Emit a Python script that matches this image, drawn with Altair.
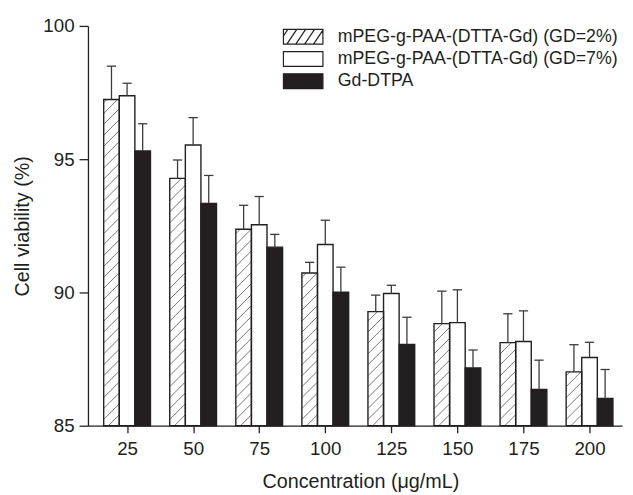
import altair as alt
import pandas as pd

concentrations = [25, 50, 75, 100, 125, 150, 175, 200]
series_names = [
    "mPEG-g-PAA-(DTTA-Gd) (GD=2%)",
    "mPEG-g-PAA-(DTTA-Gd) (GD=7%)",
    "Gd-DTPA",
]
gd2_mean = [97.24, 94.28, 92.37, 90.73, 89.28, 88.83, 88.12, 87.02]
gd2_err = [1.25, 0.69, 0.90, 0.40, 0.62, 1.22, 1.08, 1.02]
gd7_mean = [97.38, 95.53, 92.54, 91.80, 89.96, 88.87, 88.16, 87.56]
gd7_err = [0.47, 1.03, 1.06, 0.91, 0.31, 1.23, 1.15, 0.57]
dtpa_mean = [95.31, 93.34, 91.70, 90.01, 88.05, 87.17, 86.36, 86.02]
dtpa_err = [1.02, 1.05, 0.48, 0.94, 1.02, 0.67, 1.10, 1.09]

rows = []
for idx, (name, means, errs) in enumerate(
    [(series_names[0], gd2_mean, gd2_err),
     (series_names[1], gd7_mean, gd7_err),
     (series_names[2], dtpa_mean, dtpa_err)]
):
    for c, m, e in zip(concentrations, means, errs):
        rows.append({"conc": c, "series": name, "idx": idx, "mean": m, "err": e})
df = pd.DataFrame(rows)

FONT = "Liberation Sans"
INK = "#231f20"
BW = 5.9      # bar width in concentration units
CAP = 1.75    # half cap width
RISE = 0.585  # hatch rise (y units) across one bar
SP = 0.41     # hatch spacing (y units)

xscale = alt.Scale(domain=[10.2, 212.3], nice=False, zero=False)
yscale = alt.Scale(domain=[85, 100], nice=False, zero=False)

base = (
    alt.Chart(df)
    .transform_calculate(xc=f"datum.conc + (datum.idx - 1) * {BW}")
    .transform_calculate(xl=f"datum.xc - {BW / 2}")
    .transform_calculate(xr=f"datum.xc + {BW / 2}")
    .transform_calculate(top="datum.mean + datum.err")
    .transform_calculate(capl=f"datum.xc - {CAP}")
    .transform_calculate(capr=f"datum.xc + {CAP}")
    .transform_calculate(color=f"datum.idx == 2 ? '{INK}' : 'white'")
)

x_axis = alt.Axis(
    values=concentrations, title="Concentration (μg/mL)", grid=False,
    tickSize=7, labelPadding=7, titlePadding=14, titleX=276,
)
y_axis = alt.Axis(
    values=[85, 90, 95, 100], title="Cell viability (%)", grid=False,
    tickSize=9, labelPadding=5, titlePadding=11,
)

bars = base.mark_rect(strokeWidth=0).encode(
    x=alt.X("xl:Q", scale=xscale, axis=x_axis),
    x2="xr:Q",
    y=alt.Y("mean:Q", scale=yscale, axis=y_axis),
    y2=alt.datum(85),
    fill=alt.Fill("color:N", scale=None),
)

hatch = (
    base.transform_filter("datum.idx == 0")
    .transform_calculate(ks="sequence(0, 50)")
    .transform_flatten(["ks"])
    .transform_calculate(y0=f"85 - {RISE} + datum.ks * {SP}")
    .transform_filter("datum.y0 < datum.mean")
    .transform_calculate(ys="max(datum.y0, 85)")
    .transform_calculate(ye=f"min(datum.y0 + {RISE}, datum.mean)")
    .transform_calculate(xs=f"datum.xl + (datum.ys - datum.y0) / {RISE} * {BW}")
    .transform_calculate(xe=f"datum.xl + (datum.ye - datum.y0) / {RISE} * {BW}")
    .transform_filter("datum.ye > datum.ys")
    .mark_rule(color="#555555", strokeWidth=0.8)
    .encode(
        x=alt.X("xs:Q", scale=xscale),
        x2="xe:Q",
        y=alt.Y("ys:Q", scale=yscale),
        y2="ye:Q",
    )
)

outlines = base.mark_rect(fillOpacity=0, stroke=INK, strokeWidth=1.4).encode(
    x=alt.X("xl:Q", scale=xscale),
    x2="xr:Q",
    y=alt.Y("mean:Q", scale=yscale),
    y2=alt.datum(85),
)

err_lines = base.mark_rule(color="#3a3a3a", strokeWidth=1.3).encode(
    x=alt.X("xc:Q", scale=xscale),
    y=alt.Y("mean:Q", scale=yscale),
    y2="top:Q",
)
err_caps = base.mark_rule(color="#3a3a3a", strokeWidth=1.3).encode(
    x=alt.X("capl:Q", scale=xscale),
    x2="capr:Q",
    y=alt.Y("top:Q", scale=yscale),
)

rect_path = "M-2.667,-1H2.667V1H-2.667Z"
hatch_path = (
    rect_path
    + "M-2.667,-0.1L-2.067,-1"
    + "M-2.2,1L-0.867,-1"
    + "M-1,1L0.333,-1"
    + "M0.2,1L1.533,-1"
    + "M1.4,1L2.667,-0.9"
)

legend = alt.Legend(
    title=None, orient="none", legendX=209, legendY=2,
    symbolSize=225, symbolStrokeColor=INK, symbolStrokeWidth=1.2,
    labelOffset=26, labelLimit=500, rowPadding=2.5,
    labelFontSize=18, labelFont=FONT, labelColor=INK,
)
legend_layer = base.transform_filter("datum.conc == 25").mark_point(
    filled=True, clip=True, opacity=1
).encode(
    x=alt.X("conc:Q", scale=xscale),
    y=alt.datum(50),
    fill=alt.Fill(
        "series:N",
        scale=alt.Scale(domain=series_names, range=["white", "white", INK]),
        legend=legend,
    ),
    shape=alt.Shape(
        "series:N",
        scale=alt.Scale(domain=series_names, range=[hatch_path, rect_path, rect_path]),
        legend=legend,
    ),
)

chart = (
    alt.layer(bars, hatch, outlines, err_lines, err_caps, legend_layer)
    .properties(
        width=541,
        height=405,
        autosize=alt.AutoSizeParams(type="none"),
        padding={"left": 81, "top": 15, "right": 3, "bottom": 66},
        background="white",
    )
    .configure_view(stroke=None)
    .configure_axis(
        labelFont=FONT, labelFontSize=19, labelColor=INK,
        titleFont=FONT, titleFontSize=20, titleFontWeight="normal", titleColor=INK,
        domainColor=INK, domainWidth=1.3, tickColor=INK, tickWidth=1.3,
    )
)

chart.save("out.html", embed_options={"renderer": "svg", "actions": False})
